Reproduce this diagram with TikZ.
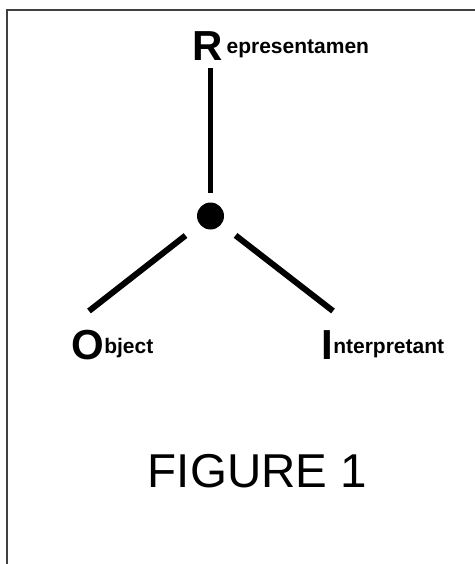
\documentclass[tikz,border=0pt]{standalone}
\usepackage{fontspec}
\setmainfont{Liberation Sans}
\usetikzlibrary{positioning}

\begin{document}
\begin{tikzpicture}[x=1pt,y=-1pt,
        dot/.style={circle,fill=black,minimum size=27pt,inner sep=0pt},
        leg/.style={line width=6pt,shorten <=18pt},
        initial/.style={inner sep=0pt,anchor=base west,font=\fontsize{42}{42}\selectfont\bfseries},
        rest/.style={inner sep=0pt,anchor=base west,font=\fontsize{21}{21}\selectfont\bfseries}]

\useasboundingbox (0,0) rectangle (474,564);
\draw[line width=2pt,color=black!75] (6.5,570) |- (480,10.5);

\node[dot] (hub) at (210.5,216) {};

\node[initial] (rep) at (192.7,61) {R};
\node[rest,right=3pt of rep.base east,anchor=base west,yshift=7pt] (repRest) {epresentamen};

\node[initial] (obj) at (71,359) {O};
\node[rest,right=0pt of obj.base east,anchor=base west,yshift=6pt] (objRest) {bject};

\node[initial] (int) at (321,359) {I};
\node[rest,right=0pt of int.base east,anchor=base west,yshift=6pt] (intRest) {nterpretant};

\coordinate (objTip) at (89,311);
\coordinate (intTip) at (333,311);

\draw[line width=5pt,shorten <=9.5pt,shorten >=7pt] (hub) -- (hub |- rep.south);
\draw[leg] (hub) -- (objTip);
\draw[leg] (hub) -- (intTip);

\node[anchor=base,font=\fontsize{47.5}{47.5}\selectfont] (fig) at (257.5,487) {FIGURE 1};
\end{tikzpicture}
\end{document}
